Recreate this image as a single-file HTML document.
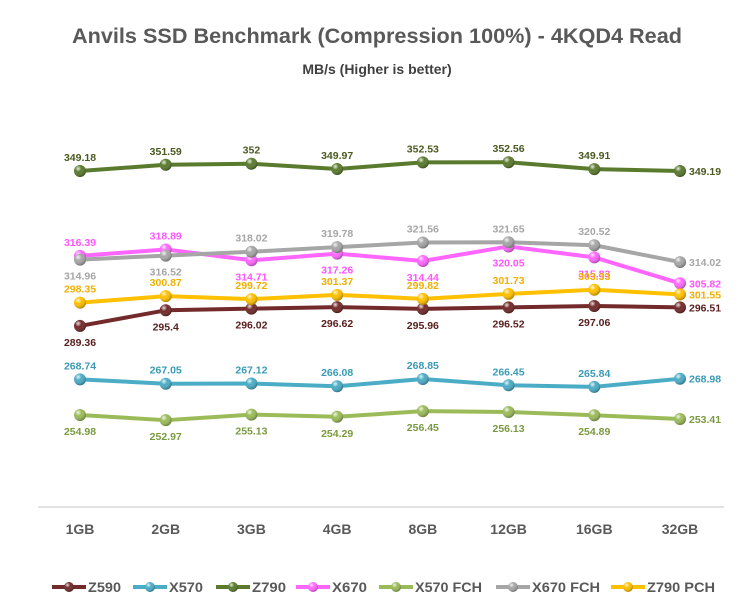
<!DOCTYPE html>
<html><head><meta charset="utf-8"><style>
body{margin:0;background:#fff;font-family:"Liberation Sans",Arial,sans-serif}
svg text{font-family:"Liberation Sans",Arial,sans-serif}
</style></head><body>
<svg id="chart" width="748" height="610" viewBox="0 0 748 610" xmlns="http://www.w3.org/2000/svg">
<defs>
<radialGradient id="shine" cx="35%" cy="30%" r="70%"><stop offset="0" stop-color="#fff" stop-opacity="0.85"/><stop offset="0.4" stop-color="#fff" stop-opacity="0"/><stop offset="1" stop-color="#000" stop-opacity="0.3"/></radialGradient>
</defs>
<text x="377" y="43" text-anchor="middle" font-size="21" font-weight="bold" fill="#595959" textLength="610" lengthAdjust="spacingAndGlyphs">Anvils SSD Benchmark (Compression 100%) - 4KQD4 Read</text>
<text x="377" y="74" text-anchor="middle" font-size="14" font-weight="bold" fill="#404040">MB/s (Higher is better)</text>
<line x1="38" y1="507" x2="724" y2="507" stroke="#d9d9d9" stroke-width="1.5"/>
<g id="xlabels"></g>
<g id="series"></g>
<g id="legend"></g>
</svg>
<script>
const categories=["1GB","2GB","3GB","4GB","8GB","12GB","16GB","32GB"];
const seriesNames=["Z590","X570","Z790","X670","X570 FCH","X670 FCH","Z790 PCH"];
const seriesColors=["#722a2a","#4bacc6","#5a7a2e","#ff66ff","#9bbb59","#a6a6a6","#ffc000"];
const z590=[289.36,295.4,296.02,296.62,295.96,296.52,297.06,296.51];
const x570=[268.74,267.05,267.12,266.08,268.85,266.45,265.84,268.98];
const z790=[349.18,351.59,352,349.97,352.53,352.56,349.91,349.19];
const x670=[316.39,318.89,314.71,317.26,314.44,320.05,315.83,305.82];
const x570fch=[254.98,252.97,255.13,254.29,256.45,256.13,254.89,253.41];
const x670fch=[314.96,316.52,318.02,319.78,321.56,321.65,320.52,314.02];
const z790pch=[298.35,300.87,299.72,301.37,299.82,301.73,303.33,301.55];
const seriesData=[z590,x570,z790,x670,x570fch,x670fch,z790pch];
// label placement: a=above, b=below, r=right
const placements=[
"bbbbbbbr","aaaaaaar","aaaaaaar","aabbbbbr","bbbbbbbr","bbaaaaar","aaaaaaar"];
const labelColors=["#5a2020","#3a9ab5","#4a5a20","#ff55ff","#7a9a40","#a6a6a6","#f0b000"];
const xPos=i=>80+i*(600/7);
const yPos=v=>171+(349.18-v)*2.59;
const NS="http://www.w3.org/2000/svg";
function mk(t,a){const e=document.createElementNS(NS,t);for(const k in a)e.setAttribute(k,a[k]);return e;}
const xl=document.getElementById('xlabels');
categories.forEach((c,i)=>{const t=mk('text',{x:xPos(i),y:534,'text-anchor':'middle','font-size':'14','font-weight':'bold',fill:'#595959'});


t.textContent=c;xl.appendChild(t);});
const sg=document.getElementById('series');
seriesData.forEach((d,s)=>{
 const g=mk('g',{});
 
 
 const pts=d.map((v,i)=>xPos(i)+','+yPos(v)).join(' ');
 const pl=mk('polyline',{points:pts,fill:'none',stroke:seriesColors[s],'stroke-width':'4','stroke-linejoin':'round'});
 
 
 g.appendChild(pl);
 d.forEach((v,i)=>{
  const x=xPos(i),y=yPos(v);
  const c=mk('circle',{cx:x,cy:y,r:6,fill:seriesColors[s]});
  
  
  g.appendChild(c);
  g.appendChild(mk('circle',{cx:x,cy:y,r:6,fill:'url(#shine)'}));
  const p=placements[s][i];
  let tx=x,ty=y,anc='middle';
  if(p==='a')ty=y-10;else if(p==='b')ty=y+20;else{tx=x+9;ty=y+4;anc='start';}
  const t=mk('text',{x:tx,y:ty,'text-anchor':anc,'font-size':'10.5','font-weight':'bold',fill:labelColors[s]});
  
  
  t.textContent=v;g.appendChild(t);
 });
 sg.appendChild(g);
});
const lg=document.getElementById('legend');
const legX=[52,133,216,296,379,496,611];
const legW=[33,34,34,35,67,68,68];
seriesNames.forEach((n,s)=>{
 const g=mk('g',{});
 
 
 const x=legX[s],y=587;
 g.appendChild(mk('line',{x1:x,y1:y,x2:x+34,y2:y,stroke:seriesColors[s],'stroke-width':'4'}));
 g.appendChild(mk('circle',{cx:x+17,cy:y,r:5,fill:seriesColors[s]}));
 g.appendChild(mk('circle',{cx:x+17,cy:y,r:5,fill:'url(#shine)'}));
 const t=mk('text',{x:x+36,y:y+5,'font-size':'14','font-weight':'bold',fill:'#595959',textLength:legW[s],lengthAdjust:'spacingAndGlyphs'});
 t.textContent=n;g.appendChild(t);
 lg.appendChild(g);
});
</script>
</body></html>
